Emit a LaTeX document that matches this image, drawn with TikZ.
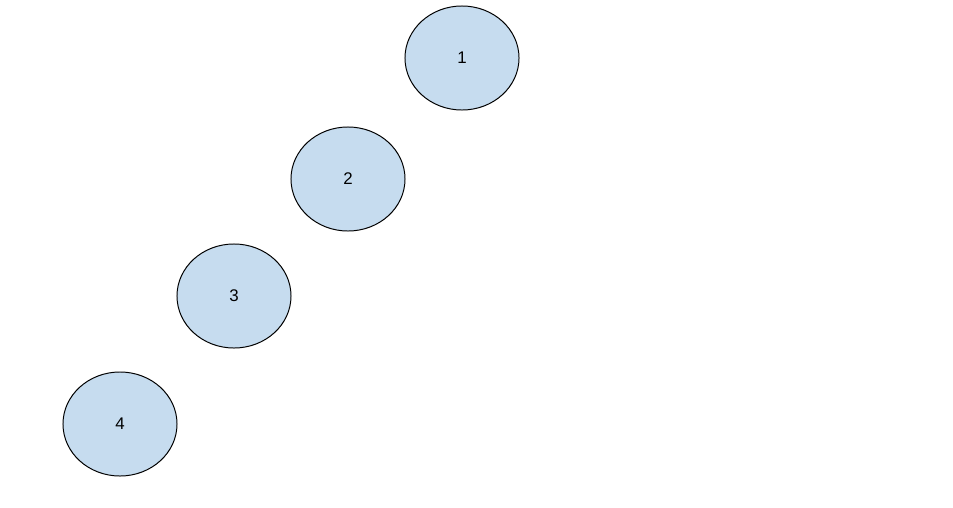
\documentclass[tikz,border=0pt]{standalone}
\usepackage{fontspec}
\setmainfont{Liberation Sans}
\usepackage{tikz}
\usetikzlibrary{shapes.geometric}
\definecolor{paleblue}{RGB}{198,220,239}

\begin{document}
\begin{tikzpicture}[
  x=0.025cm,y=-0.025cm,
  blob/.style={ellipse,draw=black,line width=0.7pt,fill=paleblue,minimum width=2.85cm,minimum height=2.6cm,inner sep=0pt,font=\fontsize{12}{14}\selectfont}
]
\useasboundingbox[fill=white] (0,0) rectangle (953,507);
\node[blob] (one) at (462,58) {1};
\node[blob] (two) at (348,179) {2};
\node[blob] (three) at (234,296) {3};
\node[blob] (four) at (120,424) {4};
\end{tikzpicture}
\end{document}
